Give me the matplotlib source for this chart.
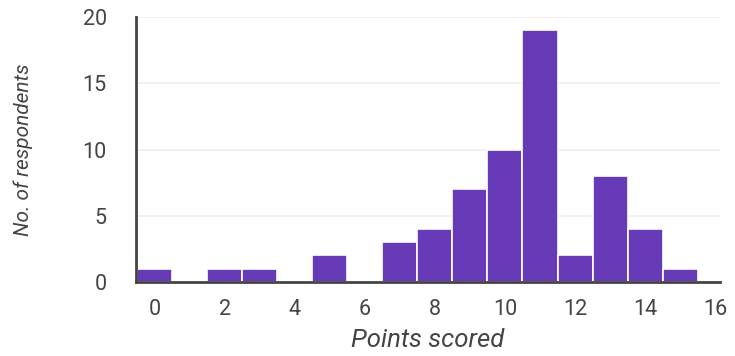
import matplotlib.pyplot as plt
import numpy as np

points = np.arange(16)
respondents = [1, 0, 1, 1, 0, 2, 0, 3, 4, 7, 10, 19, 2, 8, 4, 1]
x_ticks = [0, 2, 4, 6, 8, 10, 12, 14, 16]
y_ticks = [0, 5, 10, 15, 20]

plt.rcParams['font.family'] = ['Roboto', 'DejaVu Sans']
txt = '#444444'

fig = plt.figure(figsize=(7.35, 3.56), dpi=100)
ax = fig.add_axes([0.185, 0.208, 0.795, 0.744])

ax.bar(points, respondents, width=1.0, color='#673ab7', edgecolor='white', linewidth=1.2, zorder=3)

ax.set_xlim(-0.54, 16.15)
ax.set_ylim(0, 20)
ax.set_xticks(x_ticks)
ax.set_yticks(y_ticks)
ax.grid(axis='y', color='#eeeeee', linewidth=1.2, zorder=0)

for s in ['top', 'right']:
    ax.spines[s].set_visible(False)
for s in ['left', 'bottom']:
    ax.spines[s].set_color('#444444')
    ax.spines[s].set_linewidth(2)
    ax.spines[s].set_zorder(4)

ax.tick_params(length=0, labelsize=15.5, labelcolor=txt)
ax.tick_params(axis='y', pad=21)
ax.tick_params(axis='x', pad=12)

ax.set_xlabel('Points scored', fontsize=18.5, style='italic', color=txt, labelpad=6)
ax.set_ylabel('No. of respondents', fontsize=15, style='italic', color=txt, labelpad=36)

fig.savefig('out.png', dpi=100)
